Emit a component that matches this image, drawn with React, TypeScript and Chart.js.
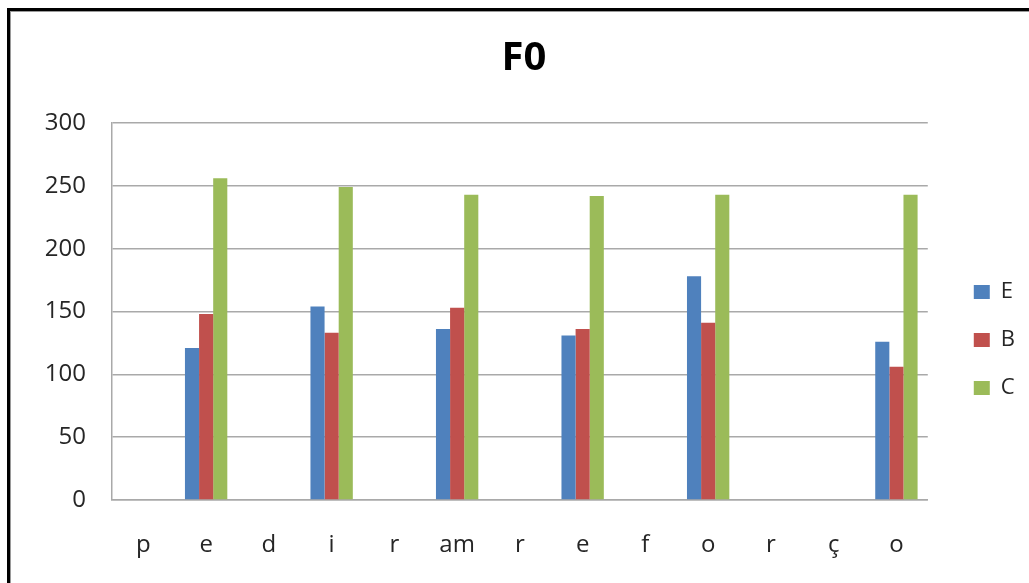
import React, { useEffect, useRef } from "react";
import { Chart, registerables } from "chart.js";

Chart.register(...registerables);

const categories = ["p", "e", "d", "i", "r", "am", "r", "e", "f", "o", "r", "ç", "o"];
const seriesE = [null, 121, null, 154, null, 136, null, 131, null, 178, null, null, 126];
const seriesB = [null, 148, null, 133, null, 153, null, 136, null, 141, null, null, 106];
const seriesC = [null, 256, null, 249, null, 243, null, 242, null, 243, null, null, 243];
const yTicks = [0, 50, 100, 150, 200, 250, 300];

const FONT = "'Open Sans', 'DejaVu Sans', sans-serif";
const GRID = "#a9a9a9";
const TEXT = "#262626";

export default function App() {
  const ref = useRef<HTMLCanvasElement | null>(null);

  useEffect(() => {
    if (!ref.current) return;
    const chart = new Chart(ref.current, {
      type: "bar",
      data: {
        labels: categories,
        datasets: [
          { label: "E", data: seriesE, backgroundColor: "#4F81BD", yAxisID: "y" },
          { label: "B", data: seriesB, backgroundColor: "#C0504D", yAxisID: "y" },
          { label: "C", data: seriesC, backgroundColor: "#9BBB59", yAxisID: "y" },
        ],
      },
      options: {
        responsive: false,
        animation: false,
        devicePixelRatio: 1,
        layout: { padding: { left: 13, right: 0, top: 0, bottom: 0 } },
        datasets: { bar: { barPercentage: 1, categoryPercentage: 0.675 } },
        plugins: {
          title: {
            display: true,
            text: "F0",
            color: "#000",
            font: { family: FONT, size: 40, weight: "bold" },
            padding: { top: 24, bottom: 40 },
          },
          legend: {
            position: "right",
            labels: {
              boxWidth: 16,
              boxHeight: 14,
              padding: 26,
              color: TEXT,
              font: { family: FONT, size: 22 },
            },
          },
          tooltip: { enabled: false },
        },
        scales: {
          x: {
            grid: { display: false, drawTicks: false },
            border: { display: true, color: GRID, width: 1.5 },
            ticks: { color: TEXT, font: { family: FONT, size: 24 }, padding: 31, maxRotation: 0, autoSkip: false },
            afterFit: (s: any) => { s.height = 169; },
          },
          y: {
            min: 0,
            max: 300,
            afterBuildTicks: (s: any) => { s.ticks = yTicks.map((v) => ({ value: v })); },
            grid: { color: GRID, lineWidth: 1.5, drawTicks: false },
            border: { display: true, color: GRID, width: 1.5 },
            ticks: { color: TEXT, font: { family: FONT, size: 24 }, padding: 26 },
            afterFit: (s: any) => { s.width = 89; },
          },
          y2: {
            position: "right",
            grid: { display: false, drawTicks: false },
            border: { display: false },
            ticks: { display: false },
            afterFit: (s: any) => { s.width = 20; },
          },
        },
      },
    });
    return () => chart.destroy();
  }, []);

  return (
    <div
      style={{
        position: "fixed",
        left: 0,
        top: 0,
        width: 1029,
        height: 583,
        overflow: "hidden",
        background: "#fff",
      }}
    >
      <div
        style={{
          position: "absolute",
          left: 7,
          top: 8,
          width: 1200,
          height: 700,
          borderLeft: "3px solid #000",
          borderTop: "3px solid #000",
          boxShadow: "inset 1px 1px 0 #9a9a9a",
        }}
      >
        <canvas ref={ref} width={1015} height={658} style={{ display: "block" }} />
      </div>
    </div>
  );
}
